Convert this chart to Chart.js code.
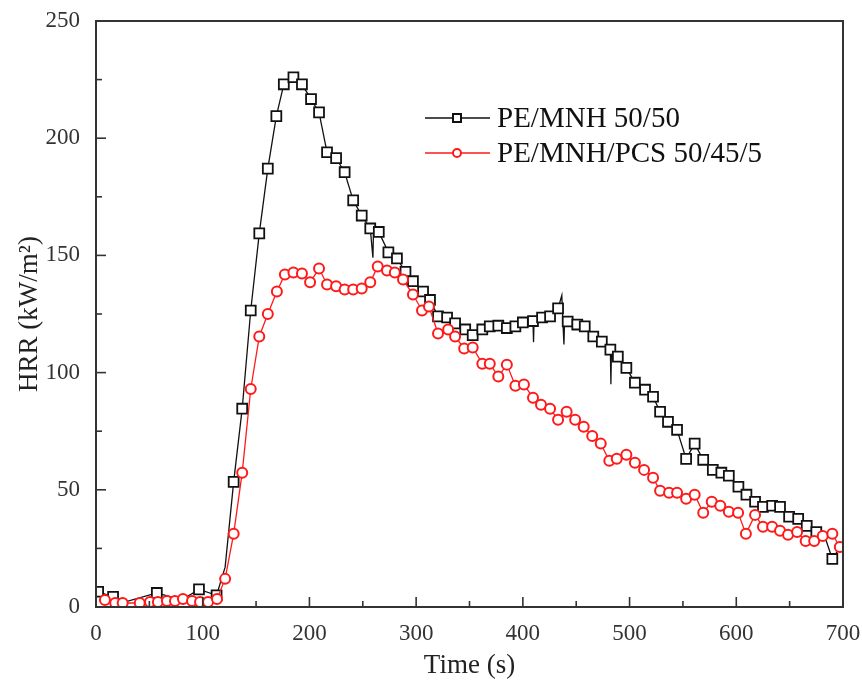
<!DOCTYPE html>
<html>
<head>
<meta charset="utf-8">
<script src="https://cdn.jsdelivr.net/npm/chart.js@4"></script>
<style>
  body { margin: 0; background: #fff; }
  #wrap { width: 862px; height: 686px; }
</style>
</head>
<body>
<div id="wrap"><canvas id="hrrChart" width="862" height="686"></canvas></div>
<script>
// data (time in s, HRR in kW/m2)
const seriesNames = ['PE/MNH 50/50', 'PE/MNH/PCS 50/45/5'];
const xTicks = [0, 100, 200, 300, 400, 500, 600, 700];
const yTicks = [0, 50, 100, 150, 200, 250];

// PE/MNH 50/50 - points with a square marker
const blackTime = [2, 16, 57, 96.5, 113, 129, 137, 145, 153, 161, 169, 176, 185, 193, 201.5, 209, 216.5, 225, 233, 241,
  249, 257, 265, 274, 282, 290, 297, 306.5, 313, 320.5, 329, 336.5, 346, 353, 362, 369, 377, 385, 393, 400,
  409.5, 418, 425.5, 433, 442, 451, 458, 466, 474, 482, 489, 497, 505, 514.5, 522, 528.6, 536, 544.5, 553, 561,
  569, 578, 586, 593, 602, 609.5, 617.6, 625, 633.6, 641, 649.5, 658, 666, 675, 690];
const blackHrr = [6.5, 4.3, 6, 7.5, 5, 53.4, 84.6, 126.5, 159.4, 187, 209.4, 223, 226, 223, 216.7, 211, 194, 191.5, 185.5, 173.5,
  167, 161.5, 160, 151.3, 148.7, 143, 139, 134.6, 131, 124, 123.5, 121, 118.4, 116, 118.4, 119.7, 120, 119, 119.7, 121.4,
  122, 123.5, 124, 127.4, 121.8, 120.5, 119.7, 115.4, 113.2, 109.8, 106.8, 102, 95.7, 92.7, 89.7, 83.3, 79, 75.6, 63.2, 69.7,
  62.8, 58.5, 57.3, 56, 51.3, 47.9, 44.9, 42.7, 43.2, 42.7, 38.5, 37.6, 34.6, 32, 20.5];
// PE/MNH 50/50 - line only (noise spikes and trace between markers)
const blackTraceTime = [30, 80, 121, 259.5, 260, 410, 410.5, 436.5, 437, 438.5, 439, 482.5, 483, 683, 698];
const blackTraceHrr = [2.5, 3, 17, 149, 160, 113, 122, 133, 127, 112, 121, 95, 109, 30, 26];

// PE/MNH/PCS 50/45/5 - points with a circle marker
const redTime = [8.4, 18, 25, 41, 50.6, 58, 66.5, 74, 81.5, 90, 97.5, 105, 113.4, 121, 129, 137, 145, 153, 161, 169.5,
  177, 185, 193, 200.6, 209, 216.5, 225, 233, 241, 249, 257, 264, 272.7, 280, 287.7, 297, 305.5, 312, 320.5, 330,
  336.5, 345, 353, 362, 369, 377, 385, 393, 401, 409.5, 417, 425.5, 433, 441, 449, 457, 465, 473, 481, 488,
  497, 505, 513.6, 522, 528.6, 537, 544.5, 553, 561, 569, 577, 585, 593, 601.7, 609, 617.6, 625, 633.6, 641, 648.5,
  657, 665, 673, 681, 690, 697];
const redHrr = [3, 1.7, 1.7, 1.7, 2.1, 2.1, 2.6, 2.6, 3.4, 2.6, 2.1, 2.1, 3.4, 12, 31.2, 57.3, 93, 115.4, 125, 134.6,
  141.9, 142.7, 142.3, 138.5, 144.4, 137.6, 136.8, 135.5, 135.5, 135.9, 138.5, 145.3, 143.6, 142.7, 139.7, 133.3, 126.5, 128.2, 116.7, 118.4,
  115.4, 110.3, 110.7, 103.8, 103.8, 98.3, 103.4, 94.4, 94.9, 89.3, 86.3, 84.6, 79.9, 83.3, 79.9, 76.9, 73, 69.7, 62.4, 63.2,
  65, 61.5, 58.5, 55.1, 49.6, 48.7, 48.7, 46.2, 47.9, 40.2, 44.9, 43.2, 40.6, 40.2, 31.2, 39.3, 34.2, 34.2, 32.5, 30.8,
  32, 28.2, 28.2, 30.3, 31.2, 25.6];

const serif = "'Liberation Serif', 'Times New Roman', serif";

function buildPoints(times, values, traceTimes, traceValues) {
  const pts = times.map((t, i) => ({ x: t, y: values[i], mark: true }));
  traceTimes.forEach((t, i) => pts.push({ x: t, y: traceValues[i], mark: false }));
  return pts.sort((a, b) => a.x - b.x);
}

// inward ticks, minor ticks and the full frame, like the original plot
const framePlugin = {
  id: 'frame',
  afterDatasetsDraw(chart) {
    const { ctx, chartArea: a, scales } = chart;
    ctx.save();
    ctx.strokeStyle = '#333';
    ctx.lineWidth = 1.6;
    for (let v = 0; v <= 700; v += 50) {
      const px = scales.x.getPixelForValue(v);
      const len = v % 100 === 0 ? 10 : 6;
      ctx.beginPath();
      ctx.moveTo(px, a.bottom);
      ctx.lineTo(px, a.bottom - len);
      ctx.stroke();
    }
    for (let v = 0; v <= 250; v += 25) {
      const py = scales.y.getPixelForValue(v);
      const len = v % 50 === 0 ? 10 : 6;
      ctx.beginPath();
      ctx.moveTo(a.left, py);
      ctx.lineTo(a.left + len, py);
      ctx.stroke();
    }
    ctx.lineWidth = 2;
    ctx.strokeRect(a.left, a.top, a.right - a.left, a.bottom - a.top);
    ctx.restore();
  },
};

// legend with a line sample and marker, inside the plot
const legendPlugin = {
  id: 'innerLegend',
  afterDraw(chart) {
    const { ctx } = chart;
    const rows = [118, 153];
    ctx.save();
    chart.data.datasets.forEach((ds, i) => {
      const y = rows[i];
      ctx.strokeStyle = ds.borderColor;
      ctx.lineWidth = 1.5;
      ctx.beginPath();
      ctx.moveTo(425, y);
      ctx.lineTo(490, y);
      ctx.stroke();
      ctx.fillStyle = '#fff';
      ctx.lineWidth = 2;
      if (ds.pointStyle === 'rect') {
        ctx.fillRect(453, y - 4, 8, 8);
        ctx.strokeRect(453, y - 4, 8, 8);
      } else {
        ctx.beginPath();
        ctx.arc(457, y, 4, 0, Math.PI * 2);
        ctx.fill();
        ctx.stroke();
      }
      ctx.fillStyle = '#111';
      ctx.font = '29px ' + serif;
      ctx.textBaseline = 'middle';
      ctx.fillText(ds.label, 497, y + 1);
    });
    ctx.restore();
  },
};

const ctx = document.getElementById('hrrChart').getContext('2d');

new Chart(ctx, {
  type: 'line',
  data: {
    datasets: [
      {
        label: seriesNames[0],
        data: buildPoints(blackTime, blackHrr, blackTraceTime, blackTraceHrr),
        borderColor: '#111',
        borderWidth: 1.3,
        pointStyle: 'rect',
        pointRadius: (c) => (c.raw && c.raw.mark ? 7 : 0),
        pointBorderWidth: 1.8,
        pointBackgroundColor: '#fff',
        pointBorderColor: '#111',
        tension: 0,
        order: 1,
      },
      {
        label: seriesNames[1],
        data: buildPoints(redTime, redHrr, [], []),
        borderColor: '#ff1a1a',
        borderWidth: 1.3,
        pointStyle: 'circle',
        pointRadius: 5,
        pointBorderWidth: 2,
        pointBackgroundColor: '#fff',
        pointBorderColor: '#ff1a1a',
        tension: 0,
        order: 0,
      },
    ],
  },
  options: {
    responsive: false,
    animation: false,
    events: [],
    layout: { padding: { top: 21, right: 19, left: 0, bottom: 0 } },
    plugins: {
      legend: { display: false },
      tooltip: { enabled: false },
    },
    scales: {
      x: {
        type: 'linear',
        min: 0,
        max: 700,
        afterFit: (s) => { s.height = 79; s.paddingLeft = 0; s.paddingRight = 0; },
        afterBuildTicks: (s) => { s.ticks = xTicks.map((v) => ({ value: v })); },
        grid: { display: false },
        border: { display: false },
        ticks: { color: '#333', font: { family: serif, size: 23 }, padding: 5 },
        title: {
          display: true,
          text: 'Time (s)',
          color: '#222',
          font: { family: serif, size: 27 },
          padding: { top: 0, bottom: 4 },
        },
      },
      y: {
        min: 0,
        max: 250,
        afterFit: (s) => { s.width = 96; s.paddingTop = 0; s.paddingBottom = 0; },
        afterBuildTicks: (s) => { s.ticks = yTicks.map((v) => ({ value: v })); },
        grid: { display: false },
        border: { display: false },
        ticks: { color: '#333', font: { family: serif, size: 23 }, padding: 8 },
        title: {
          display: true,
          text: 'HRR (kW/m²)',
          color: '#222',
          font: { family: serif, size: 27 },
          padding: { top: 14, bottom: 0 },
        },
      },
    },
  },
  plugins: [framePlugin, legendPlugin],
});
</script>
</body>
</html>
